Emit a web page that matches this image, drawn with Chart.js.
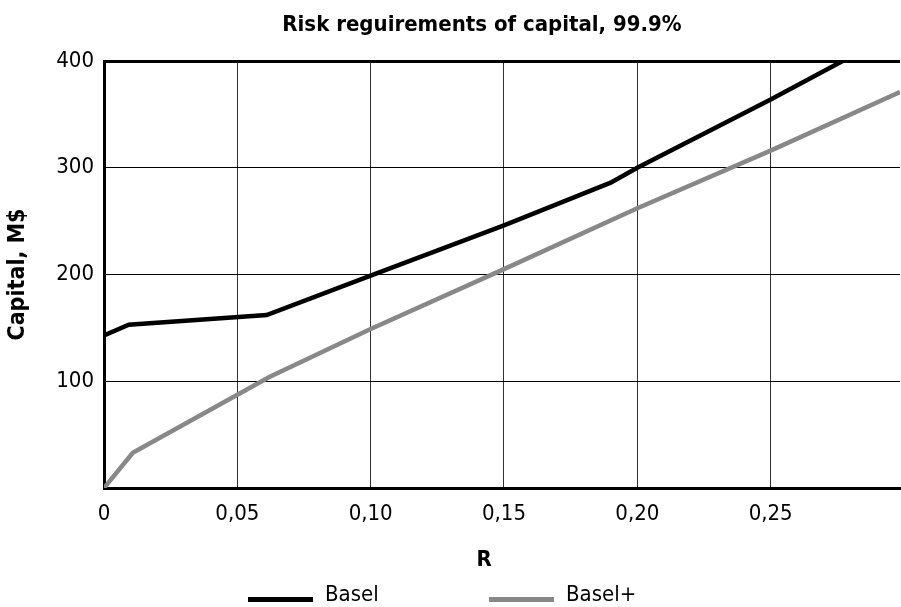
<!DOCTYPE html>
<html>
<head>
<meta charset="utf-8">
<script src="https://cdn.jsdelivr.net/npm/chart.js@4.4.1/dist/chart.umd.min.js"></script>
<style>
  html, body { margin: 0; padding: 0; background: #fff; }
  #wrap { position: relative; width: 901px; height: 607px; overflow: hidden; font-family: 'DejaVu Sans Condensed', 'Liberation Sans Narrow', 'DejaVu Sans', sans-serif; color: #000; }
  canvas { position: absolute; left: 0; top: 0; }
  .txt { position: absolute; white-space: nowrap; line-height: 1; }
  #title { font-weight: bold; font-size: 22px; top: 13px; left: 482px; transform: translateX(-50%); }
  #xtitle { font-weight: bold; font-size: 22px; top: 548px; left: 484px; transform: translateX(-50%); }
  .leg-line { position: absolute; height: 5px; width: 65px; top: 597px; }
  .leg-txt { position: absolute; font-size: 22px; top: 583px; line-height: 1; }
</style>
</head>
<body>
<div id="wrap">
  <canvas id="c" width="901" height="607"></canvas>
  <div id="title" class="txt">Risk reguirements of capital, 99.9%</div>
  <div id="xtitle" class="txt">R</div>
  <div class="leg-line" style="left:248px;background:#000;"></div>
  <div class="leg-txt" style="left:325px;">Basel</div>
  <div class="leg-line" style="left:489px;background:#888;"></div>
  <div class="leg-txt" style="left:566px;">Basel+</div>
</div>
<script>
// ---- data ----
const baselR   = [0, 0.0093, 0.061, 0.10, 0.15, 0.19, 0.20, 0.25, 0.277];
const baselCap = [143, 153, 162, 199, 246, 286, 300, 364, 400];
const baselPlusR   = [0, 0.0108, 0.062, 0.10, 0.15, 0.20, 0.25, 0.2985];
const baselPlusCap = [0, 33, 104, 149, 205, 262, 316, 371];
const xTicks = [0, 0.05, 0.10, 0.15, 0.20, 0.25];
const yTicks = [0, 100, 200, 300, 400];
const seriesNames = ['Basel', 'Basel+'];

const FONT = "'DejaVu Sans Condensed', 'Liberation Sans Narrow', 'DejaVu Sans', sans-serif";

function pts(xs, ys) { return xs.map((x, i) => ({ x: x, y: ys[i] })); }

new Chart(document.getElementById('c'), {
  type: 'line',
  data: {
    datasets: [
      { label: seriesNames[0], data: pts(baselR, baselCap), borderColor: '#000', backgroundColor: '#000', borderWidth: 4.5, pointRadius: 0, tension: 0 },
      { label: seriesNames[1], data: pts(baselPlusR, baselPlusCap), borderColor: '#888', backgroundColor: '#888', borderWidth: 4.5, pointRadius: 0, tension: 0 }
    ]
  },
  options: {
    responsive: false,
    animation: false,
    events: [],
    layout: { padding: { left: 0, right: 1, top: 61, bottom: 0 } },
    plugins: { legend: { display: false }, title: { display: false }, tooltip: { enabled: false } },
    scales: {
      x: {
        type: 'linear', min: 0, max: 0.2985,
        afterBuildTicks: s => { s.ticks = xTicks.map(v => ({ value: v })); },
        afterFit: s => { s.height = 119; },
        ticks: {
          autoSkip: false, padding: 13, color: '#000',
          font: { family: FONT, size: 22 },
          callback: v => v === 0 ? '0' : v.toFixed(2).replace('.', ',')
        },
        grid: { color: '#333', lineWidth: 1, drawTicks: false },
        border: { color: '#000', width: 3 }
      },
      y: {
        type: 'linear', min: 0, max: 400,
        afterBuildTicks: s => { s.ticks = yTicks.map(v => ({ value: v })); },
        afterFit: s => { s.width = 104; },
        ticks: {
          padding: 10, color: '#000',
          font: { family: FONT, size: 22 },
          callback: v => v === 0 ? '' : String(v)
        },
        grid: { color: '#000', lineWidth: c => (c.tick && c.tick.value === 400) ? 3 : 1, drawTicks: false },
        border: { color: '#000', width: 3 },
        title: { display: true, text: 'Capital, M$', color: '#000', font: { family: FONT, size: 23, weight: 'bold' }, padding: { top: 4, bottom: 0 } }
      }
    }
  }
});
</script>
</body>
</html>
